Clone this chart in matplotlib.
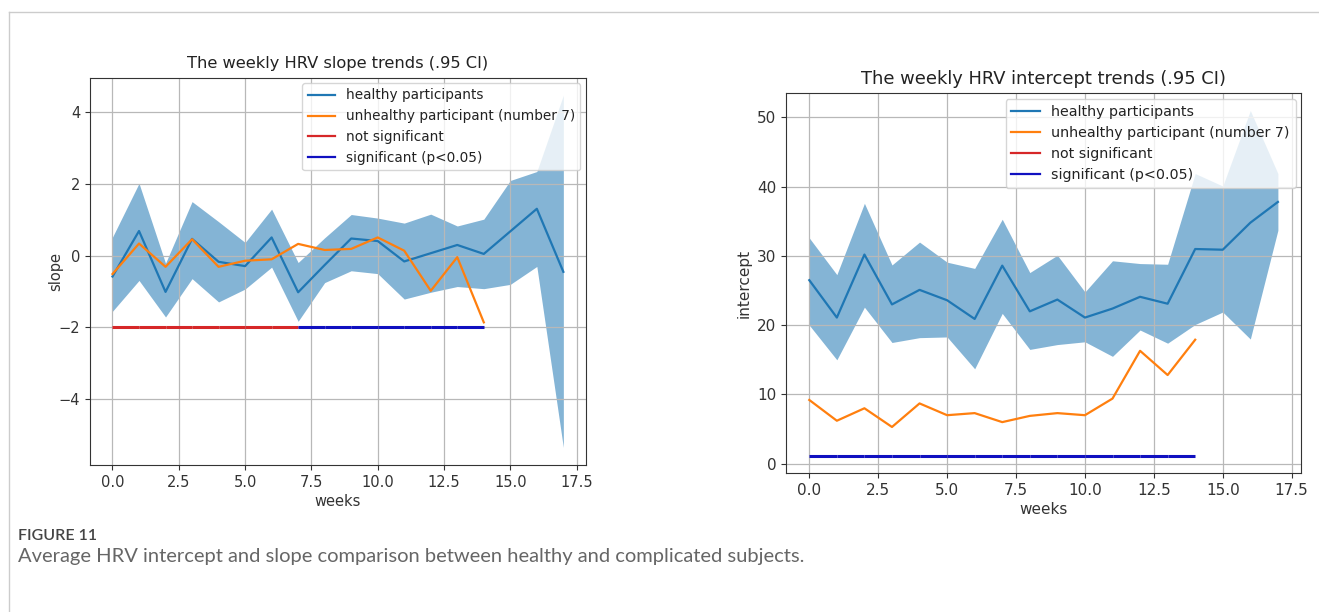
import matplotlib.pyplot as plt
from matplotlib.lines import Line2D

weeks = list(range(18))
weeks_unhealthy = list(range(15))

# slope per week, healthy group mean with .95 CI
healthy_slope = [-0.58, 0.69, -1.01, 0.47, -0.17, -0.29, 0.51, -1.02, -0.26,
                 0.48, 0.41, -0.16, 0.07, 0.30, 0.05, 0.68, 1.31, -0.45]
slope_upper = [0.52, 2.02, -0.21, 1.51, 0.95, 0.37, 1.30, -0.19, 0.50,
               1.15, 1.05, 0.91, 1.16, 0.83, 1.02, 2.10, 2.35, 4.48]
slope_lower = [-1.55, -0.69, -1.71, -0.64, -1.29, -0.93, -0.32, -1.83, -0.75,
               -0.42, -0.50, -1.21, -1.02, -0.86, -0.92, -0.80, -0.30, -5.35]
unhealthy_slope = [-0.51, 0.34, -0.31, 0.46, -0.31, -0.14, -0.10, 0.33,
                   0.16, 0.19, 0.51, 0.14, -0.98, -0.04, -1.86]

# intercept per week
healthy_intercept = [26.5, 21.1, 30.2, 23.0, 25.1, 23.6, 20.9, 28.6, 22.0,
                     23.7, 21.1, 22.4, 24.1, 23.1, 31.0, 30.9, 34.8, 37.8]
intercept_upper = [32.6, 27.3, 37.6, 28.7, 32.0, 29.1, 28.2, 35.3, 27.6,
                   30.1, 24.8, 29.3, 28.9, 28.8, 41.9, 40.1, 51.0, 41.9]
intercept_lower = [20.0, 15.0, 22.6, 17.5, 18.2, 18.3, 13.7, 21.7, 16.5,
                   17.2, 17.6, 15.5, 19.3, 17.4, 20.1, 21.9, 18.0, 33.7]
unhealthy_intercept = [9.2, 6.2, 8.0, 5.3, 8.7, 7.0, 7.3, 6.0, 6.9, 7.3,
                       7.0, 9.4, 16.3, 12.8, 17.9]

# significance of the difference for each week-to-week segment
slope_significant = [False] * 7 + [True] * 7
intercept_significant = [True] * 14
slope_sig_level = -2.0
intercept_sig_level = 1.1

legend_labels = ['healthy participants', 'unhealthy participant (number 7)',
                 'not significant', 'significant (p<0.05)']

RED = '#d62728'
BLUE = '#1010c0'


def draw_panel(ax, mean, lower, upper, unhealthy, significant, level,
               title, ylabel, fs, title_fs, leg_fs, ylabelpad):
    ax.plot(weeks, mean, color='C0', lw=1.6)
    ax.fill_between(weeks, lower, upper, color='C0', alpha=0.55, lw=0)
    ax.plot(weeks_unhealthy, unhealthy, color='C1', lw=1.6)
    # one coloured segment per week pair
    for i, sig in enumerate(significant):
        ax.plot([weeks[i], weeks[i + 1]], [level, level],
                color=BLUE if sig else RED, lw=2.2, solid_capstyle='butt')
    ax.grid(True, color='#b8b8b8', lw=0.9)
    ax.set_title(title, fontsize=title_fs, color='#222222', pad=7)
    ax.set_xlabel('weeks', fontsize=fs, color='#333333', labelpad=3)
    ax.set_ylabel(ylabel, fontsize=fs, color='#333333', labelpad=ylabelpad)
    ax.tick_params(labelsize=fs, colors='#333333')
    for s in ax.spines.values():
        s.set_color('#333333')
    handles = [Line2D([], [], color='C0', lw=1.6),
               Line2D([], [], color='C1', lw=1.6),
               Line2D([], [], color=RED, lw=1.6),
               Line2D([], [], color=BLUE, lw=1.6)]
    ax.legend(handles, legend_labels, loc='upper right', fontsize=leg_fs,
              labelcolor='#222222', handlelength=2.0, borderaxespad=0.4,
              labelspacing=0.5)


fig = plt.figure(figsize=(13.19, 6.12), dpi=100)

ax1 = fig.add_axes([0.0682, 0.2402, 0.376, 0.633])
draw_panel(ax1, healthy_slope, slope_lower, slope_upper, unhealthy_slope,
           slope_significant, slope_sig_level,
           'The weekly HRV slope trends (.95 CI)', 'slope',
           10.5, 11.7, 9.8, -3)

ax2 = fig.add_axes([0.5958, 0.2266, 0.3908, 0.621])
draw_panel(ax2, healthy_intercept, intercept_lower, intercept_upper,
           unhealthy_intercept, intercept_significant, intercept_sig_level,
           'The weekly HRV intercept trends (.95 CI)', 'intercept',
           11, 12.9, 10.3, 4)

# thin page frame on top and left
fig.add_artist(Line2D([9 / 1319, 1.0], [1 - 12 / 612, 1 - 12 / 612],
                      color='#cccccc', lw=1.0))
fig.add_artist(Line2D([9 / 1319, 9 / 1319], [0.0, 1 - 12 / 612],
                      color='#cccccc', lw=1.0))

cap_font = ['Lato', 'DejaVu Sans']
fig.text(18 / 1319, 1 - 540 / 612, 'FIGURE 11', family=cap_font,
         fontsize=11.5, color='#444444', va='baseline', weight='semibold')
fig.text(18 / 1319, 1 - 562 / 612,
         'Average HRV intercept and slope comparison between healthy and '
         'complicated subjects.',
         family=cap_font, fontsize=14.5, color='#666666', va='baseline')

fig.savefig('out.png', dpi=100)
